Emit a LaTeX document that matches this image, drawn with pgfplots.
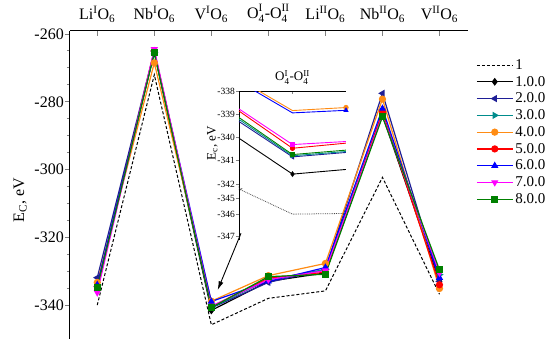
\documentclass[border=0pt]{standalone}
\usepackage{amsmath}
\usepackage{fontspec}
\setmainfont{Liberation Serif}
\usepackage{pgfplots}
\usepackage{pgfplotstable}
\pgfplotsset{compat=1.18}
\usetikzlibrary{arrows.meta}
\definecolor{cnavy}{RGB}{30,30,150}
\definecolor{cteal}{RGB}{0,140,140}
\definecolor{corange}{RGB}{255,140,20}
\definecolor{cred}{RGB}{255,0,0}
\definecolor{cblue}{RGB}{0,0,255}
\definecolor{cmag}{RGB}{255,0,255}
\definecolor{cgreen}{RGB}{0,128,0}

\pgfplotstableread{
x d1 s1 s2 s3 s4 s5 s6 s7 s8
0 -340 -334.5 -331.9 -334 -333.3 -334.5 -334 -336.3 -334.8
1 -272 -265.5 -265 -265.5 -268.5 -265 -265.3 -264.5 -265.5
2 -345.8 -341.57 -340.83 -340.7 -338.84 -340.46 -338.94 -340.3 -340.73
3 -338 -333 -333.3 -332.5 -331.3 -332 -333 -332.5 -331.6
4 -335.8 -330.5 -329.5 -329.5 -327.7 -330.3 -328.9 -329.8 -330.9
5 -302.3 -284 -277.5 -283.5 -279.2 -283 -282 -284 -284.4
6 -336.8 -333 -333 -331 -335.1 -334 -331.9 -330.5 -329.6
}\maindata

% inset data, y in a broken scale: v+338 above the break
\pgfplotstableread{
x d1 s1 s2 s3 s4 s5 s6 s7 s8
-1 -4.21 -2.03 -1.31 -1.22 0.5 -0.86 0.4 -0.77 -1.14
0 -5.29 -3.57 -2.83 -2.78 -0.84 -2.46 -0.94 -2.30 -2.73
1 -5.26 -3.37 -2.64 -2.60 -0.71 -2.24 -0.83 -2.17 -2.54
}\insetdata

\begin{document}
\begin{tikzpicture}
\begin{axis}[
  scale only axis, width=398pt, height=308pt,
  xmin=-0.478, xmax=6.5, ymin=-350, ymax=-259.1,
  axis x line=top, axis y line=left,
  axis line style={-, line width=1pt},
  tick align=outside,
  major tick length=5pt, minor tick length=3pt,
  xtick={0,...,6},
  xticklabels={Li$^{\text{I}}$O$_{\text{6}}$, Nb$^{\text{I}}$O$_{\text{6}}$, V$^{\text{I}}$O$_{\text{6}}$, O$^{\text{I}}_{\text{4}}$-O$^{\text{II}}_{\text{4}}$, Li$^{\text{II}}$O$_{\text{6}}$, Nb$^{\text{II}}$O$_{\text{6}}$, V$^{\text{II}}$O$_{\text{6}}$},
  xtick style={line width=1pt, yshift=-5pt},
  ytick={-340,-320,-300,-280,-260},
  minor y tick num=3,
  ytick style={line width=1pt},
  /pgf/number format/assume math mode=true,
  tick label style={font=\fontsize{16}{19}\selectfont},
  yticklabel style={inner sep=1pt},
  ylabel={E$_{\text{C}}$, eV},
  ylabel style={font=\fontsize{16}{19}\selectfont, at={(axis description cs:-0.125,0.45)}, anchor=center},
  legend style={draw=none, fill=none, at={(1.02,0.915)}, anchor=north west,
    font=\fontsize{15}{18}\selectfont, row sep=1.3pt, inner sep=0pt},
  legend cell align=left,
  legend image code/.code={\draw[mark repeat=2,mark phase=2,#1] plot coordinates {(0pt,0pt) (18pt,0pt) (36pt,0pt)};},
  every axis plot/.append style={line width=1.2pt, mark size=3pt},
]
\addplot[black, line width=1pt, dash pattern=on 3pt off 2pt] table[x=x,y=d1]{\maindata};
\addlegendentry{1}
\addplot[black, mark=diamond*] table[x=x,y=s1]{\maindata};
\addlegendentry{1.0.0}
\addplot[cnavy, mark=triangle*, mark options={rotate=90}] table[x=x,y=s2]{\maindata};
\addlegendentry{2.0.0}
\addplot[cteal, mark=triangle*, mark options={rotate=-90}] table[x=x,y=s3]{\maindata};
\addlegendentry{3.0.0}
\addplot[corange, mark=*] table[x=x,y=s4]{\maindata};
\addlegendentry{4.0.0}
\addplot[cred, mark=*] table[x=x,y=s5]{\maindata};
\addlegendentry{5.0.0}
\addplot[cblue, mark=triangle*] table[x=x,y=s6]{\maindata};
\addlegendentry{6.0.0}
\addplot[cmag, mark=triangle*, mark options={rotate=180}] table[x=x,y=s7]{\maindata};
\addlegendentry{7.0.0}
\addplot[cgreen, mark=square*] table[x=x,y=s8]{\maindata};
\addlegendentry{8.0.0}
\draw[-{Latex[length=9pt,width=5pt]}, line width=0.9pt] (axis cs:2.52,-318.8) -- (axis cs:2.11,-335.6);
\end{axis}

\begin{axis}[
  at={(169pt,99pt)}, anchor=south west,
  scale only axis, width=107pt, height=149pt,
  xmin=-1, xmax=1, ymin=-6.4, ymax=0,
  axis x line=top, axis y line=left,
  axis line style={-, line width=0.7pt},
  tick align=outside,
  major tick length=3pt,
  xtick={0},
  xticklabels={O$^{\text{I}}_{\text{4}}$-O$^{\text{II}}_{\text{4}}$},
  xtick style={line width=0.7pt, yshift=-3pt},
  xticklabel style={font=\fontsize{13}{15}\selectfont},
  ytick={0,-1,-2,-3,-4,-4.6,-5.29,-6.23},
  yticklabels={-338,-339,-340,-341,-342,-345,-346,-347},
  ytick style={line width=0.7pt},
  yticklabel style={font=\fontsize{9.5}{11}\selectfont, inner sep=1pt},
  ylabel={E$_{\text{c}}$, eV},
  ylabel style={font=\fontsize{13}{15}\selectfont, at={(axis description cs:-0.25,0.65)}, anchor=center},
  every axis plot/.append style={line width=0.9pt, mark size=2.2pt, mark indices={2}},
]
\addplot[black!70, line width=0.8pt, densely dotted] table[x=x,y=d1]{\insetdata};
\addplot[black, mark=diamond*] table[x=x,y=s1]{\insetdata};
\addplot[cnavy, mark=triangle*, mark options={rotate=90}] table[x=x,y=s2]{\insetdata};
\addplot[cteal, mark=triangle*, mark options={rotate=-90}] table[x=x,y=s3]{\insetdata};
\addplot[corange, mark=*] table[x=x,y=s4]{\insetdata};
\addplot[cred, mark=*] table[x=x,y=s5]{\insetdata};
\addplot[cblue, mark=triangle*] table[x=x,y=s6]{\insetdata};
\addplot[cmag, mark=square*] table[x=x,y=s7]{\insetdata};
\addplot[cgreen, mark=square*] table[x=x,y=s8]{\insetdata};
\draw[line width=0.6pt] (rel axis cs:-0.03,0.345) -- (rel axis cs:0.0,0.36) -- (rel axis cs:-0.01,0.335) -- (rel axis cs:0.03,0.345);
\end{axis}
\pgfresetboundingbox
\path[use as bounding box] (-70pt,-9pt) rectangle (480pt,339pt);
\end{tikzpicture}
\end{document}
